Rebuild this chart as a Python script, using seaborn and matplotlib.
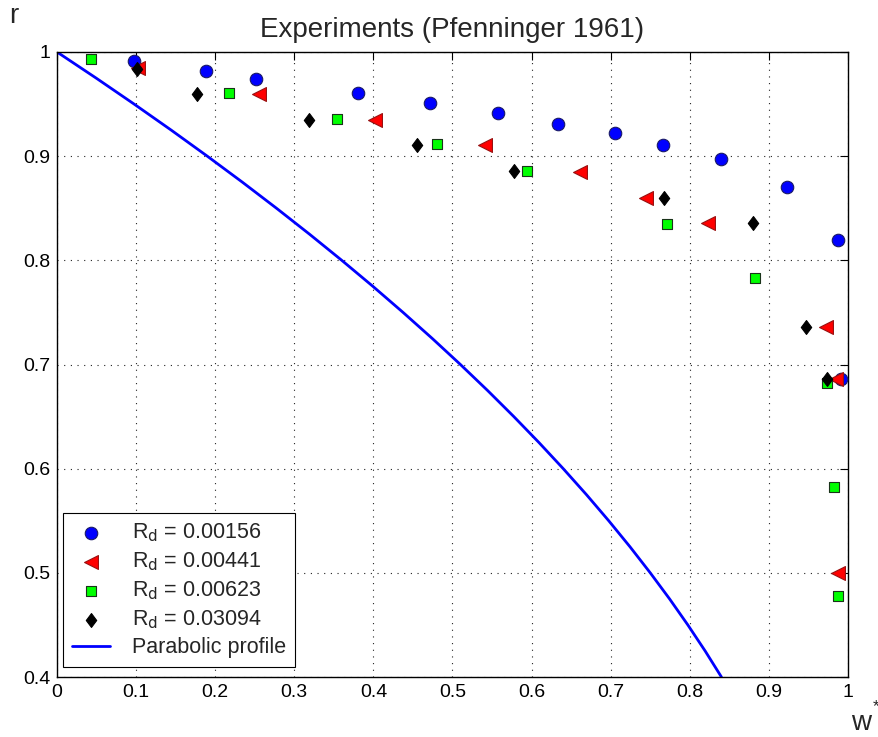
import matplotlib
matplotlib.use("Agg")
import matplotlib.pyplot as plt
import seaborn as sns
import pandas as pd

# ---- data ----
blue_w = [0.097, 0.188, 0.252, 0.380, 0.472, 0.558, 0.633, 0.705, 0.766, 0.840, 0.923, 0.987, 0.991]
blue_r = [0.991, 0.982, 0.974, 0.961, 0.951, 0.941, 0.931, 0.922, 0.911, 0.897, 0.870, 0.820, 0.686]

red_w = [0.103, 0.255, 0.402, 0.541, 0.661, 0.744, 0.823, 0.972, 0.985, 0.987]
red_r = [0.985, 0.960, 0.935, 0.911, 0.885, 0.860, 0.836, 0.736, 0.686, 0.500]

green_w = [0.043, 0.218, 0.354, 0.480, 0.594, 0.771, 0.882, 0.974, 0.982, 0.987]
green_r = [0.993, 0.961, 0.936, 0.912, 0.886, 0.835, 0.783, 0.682, 0.582, 0.478]

black_w = [0.101, 0.177, 0.319, 0.455, 0.578, 0.768, 0.880, 0.947, 0.973]
black_r = [0.984, 0.960, 0.935, 0.911, 0.886, 0.860, 0.836, 0.736, 0.686]

para_r = [1.0, 0.975, 0.95, 0.925, 0.9, 0.875, 0.85, 0.825, 0.8, 0.775, 0.75, 0.725, 0.7,
          0.675, 0.65, 0.625, 0.6, 0.575, 0.55, 0.525, 0.5, 0.475, 0.45, 0.425, 0.4]
para_w = [0.0, 0.0494, 0.0975, 0.1444, 0.19, 0.2344, 0.2775, 0.3194, 0.36, 0.3994, 0.4375, 0.4744, 0.51,
          0.5444, 0.5775, 0.6094, 0.64, 0.6694, 0.6975, 0.7244, 0.75, 0.7744, 0.7975, 0.8194, 0.84]

labels = ["R$_\\mathrm{d}$ = 0.00156", "R$_\\mathrm{d}$ = 0.00441",
          "R$_\\mathrm{d}$ = 0.00623", "R$_\\mathrm{d}$ = 0.03094"]
x_ticks = [0, 0.1, 0.2, 0.3, 0.4, 0.5, 0.6, 0.7, 0.8, 0.9, 1]
x_ticklabels = ["0", "0.1", "0.2", "0.3", "0.4", "0.5", "0.6", "0.7", "0.8", "0.9", "1"]
y_ticks = [0.4, 0.5, 0.6, 0.7, 0.8, 0.9, 1]
y_ticklabels = ["0.4", "0.5", "0.6", "0.7", "0.8", "0.9", "1"]

# ---- style ----
sns.set_style("white")
plt.rcParams["font.family"] = ["Liberation Sans", "DejaVu Sans"]
plt.rcParams["mathtext.default"] = "regular"

fig = plt.figure(figsize=(8.79, 7.37), dpi=100)
ax = fig.add_axes([57 / 879, 1 - 677 / 737, 791 / 879, 625 / 737])

diamond = [(0, -1), (0.75, 0), (0, 1), (-0.75, 0), (0, -1)]
series = [
    (blue_w, blue_r, "o", "#0000ff", "#1a1a66", 9),
    (red_w, red_r, "<", "#ff0000", "#991111", 10),
    (green_w, green_r, "s", "#00ff00", "#1a331a", 7),
    (black_w, black_r, diamond, "#000000", "#000000", 10),
]
for (w, r, mk, fc, ec, ms), lab in zip(series, labels):
    df = pd.DataFrame({"w": w, "r": r})
    sns.scatterplot(data=df, x="w", y="r", marker=mk, color=fc, edgecolor=ec,
                    s=ms ** 2, linewidth=0.8, ax=ax, label=lab, zorder=3)

dfp = pd.DataFrame({"w": para_w, "r": para_r})
sns.lineplot(data=dfp, x="w", y="r", sort=False, color="#0000ff", lw=2.0, ax=ax,
             label="Parabolic profile", zorder=2)

ax.set_xlim(0, 1)
ax.set_ylim(0.4, 1)
ax.set_xticks(x_ticks)
ax.set_xticklabels(x_ticklabels)
ax.set_yticks(y_ticks)
ax.set_yticklabels(y_ticklabels)
ax.tick_params(direction="in", top=True, right=True, length=6, width=0.8,
               labelsize=14, colors="black", pad=5)
ax.grid(True, color="#222222", linestyle=(0, (1, 5)), linewidth=0.8)
for sp in ax.spines.values():
    sp.set_visible(True)
    sp.set_color("black")
    sp.set_linewidth(1.0)
ax.set_xlabel("")
ax.set_ylabel("")
ax.set_title("Experiments (Pfenninger 1961)", fontsize=20, pad=11)

fig.text(14 / 879, 1 - 16 / 737, "r", fontsize=20, ha="center", va="center")
fig.text(861 / 879, 1 - 723 / 737, "w", fontsize=20, ha="center", va="center")
fig.text(876 / 879, 1 - 707 / 737, "*", fontsize=12, ha="center", va="center")

leg = ax.legend(loc="lower left", bbox_to_anchor=(6 / 791, 10 / 625), fontsize=15.5,
                frameon=True, fancybox=False, edgecolor="black", framealpha=1,
                borderpad=0.4, labelspacing=0.3, handlelength=1.8,
                handletextpad=1.0, borderaxespad=0.0)
leg.get_frame().set_linewidth(0.8)

fig.savefig("out.png", dpi=100)
